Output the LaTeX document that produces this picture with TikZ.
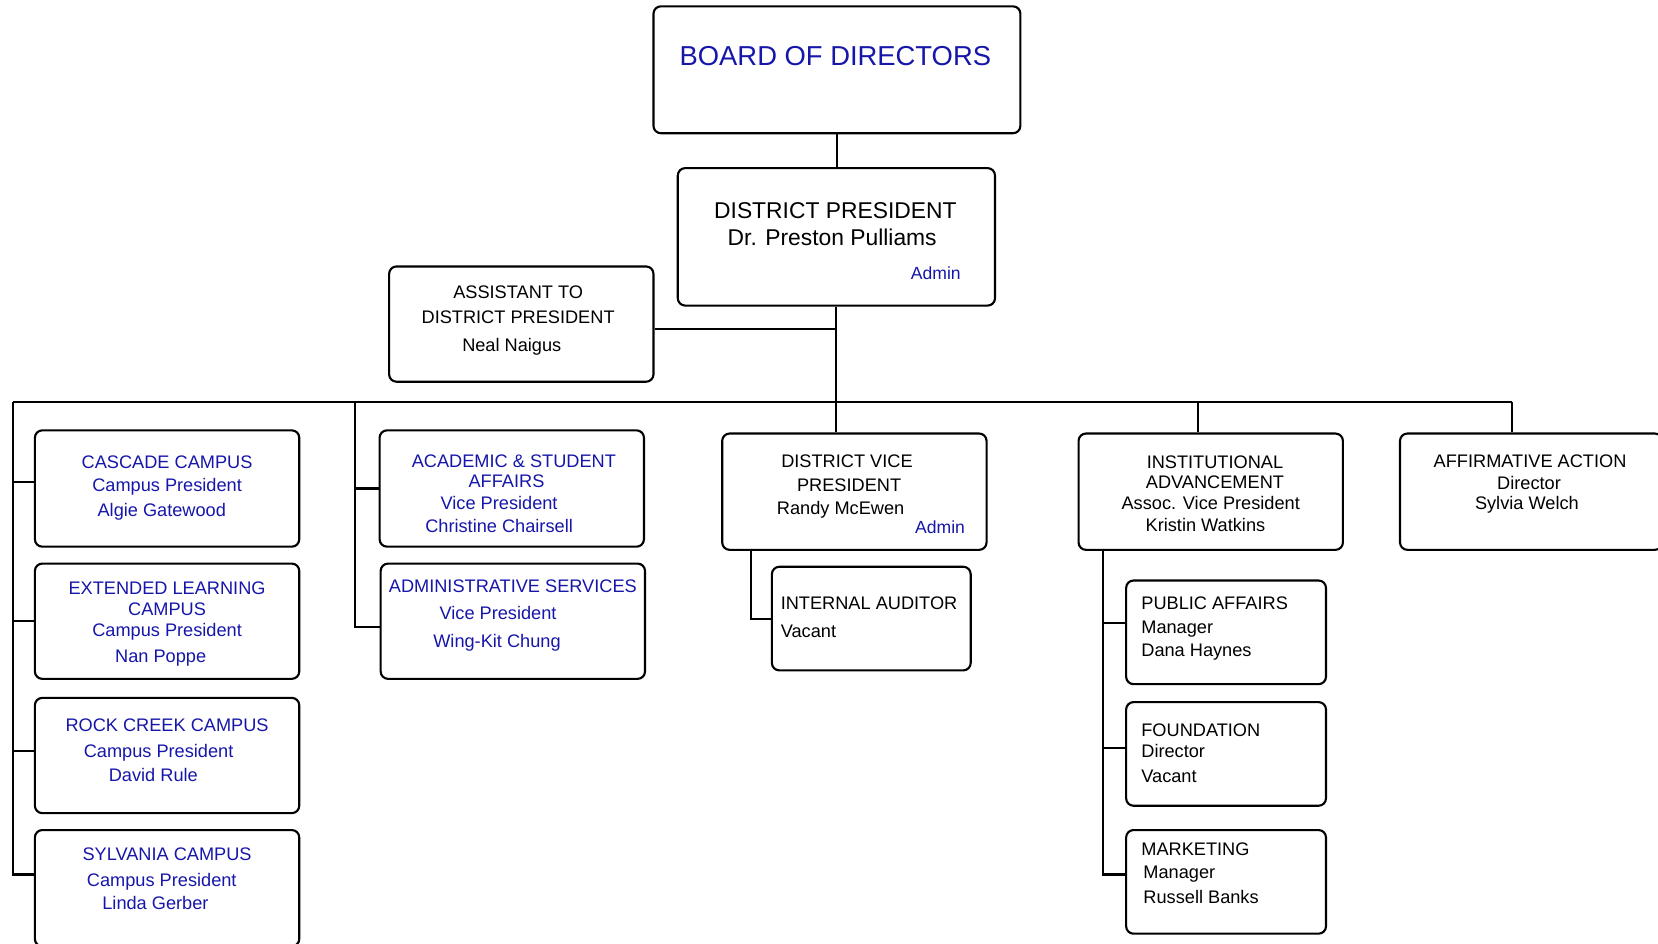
\documentclass[tikz,border=0pt]{standalone}
\usepackage{fontspec}
\setmainfont{Liberation Sans}
\newcommand\fnorm{\fontsize{8.6}{10}\selectfont}
\newcommand\fdpres{\fontsize{10.8}{13}\selectfont}
\newcommand\fboard{\fontsize{12.95}{15}\selectfont}
\newcommand\fadm{\fontsize{8.3}{10}\selectfont}
\definecolor{dblue}{RGB}{22,22,170}
\tikzset{
  box/.style={draw=black, line width=1pt, rounded corners=3.5pt, inner sep=0pt},
  conn/.style={draw=black, line width=1pt},
  txt/.style={inner sep=0pt, text height=0.72em, text depth=0pt, font=\fnorm, text=black},
  btxt/.style={txt, text=dblue},
  ltxt/.style={txt, anchor=west},
}
\begin{document}
\begin{tikzpicture}[x=0.5pt,y=-0.5pt]
\useasboundingbox (0,0) rectangle (1568,892);
% boxes
\node[box, minimum width=173.5pt, minimum height=60pt] (board) at (791.5,66) {};
\node[box, minimum width=150pt, minimum height=65pt] (dp) at (791,224) {};
\node[box, minimum width=125pt, minimum height=54.5pt] (asst) at (493,306.5) {};
\node[box, minimum width=125pt, minimum height=55pt] (casc) at (158,462) {};
\node[box, minimum width=125pt, minimum height=54.5pt] (ext) at (158,587.5) {};
\node[box, minimum width=125pt, minimum height=54.5pt] (rock) at (158,714.5) {};
\node[box, minimum width=125pt, minimum height=55pt] (sylv) at (158,840) {};
\node[box, minimum width=125pt, minimum height=55pt] (acad) at (484,462) {};
\node[box, minimum width=125pt, minimum height=54.5pt] (adms) at (485,587.5) {};
\node[box, minimum width=125pt, minimum height=55pt] (dvp) at (808,465) {};
\node[box, minimum width=94pt, minimum height=49pt] (aud) at (824,585) {};
\node[box, minimum width=125pt, minimum height=55pt] (ia) at (1145,465) {};
\node[box, minimum width=94.5pt, minimum height=49pt] (pa) at (1159.5,598) {};
\node[box, minimum width=94.5pt, minimum height=49pt] (fnd) at (1159.5,713) {};
\node[box, minimum width=94.5pt, minimum height=49pt] (mkt) at (1159.5,834) {};
\node[box, minimum width=124pt, minimum height=55pt] (aff) at (1448,465) {};
% texts
\node[btxt, font=\fboard] (t-board) at (790,55) {BOARD OF DIRECTORS};
\node[txt, font=\fdpres] (t-dp1) at (790,199) {DISTRICT PRESIDENT};
\node[txt, font=\fdpres] (t-dp2) at (787,225) {Dr. Preston Pulliams};
\node[btxt, font=\fadm] (t-dp3) at (885,257) {Admin};
\node[txt] (t-as1) at (490,275) {ASSISTANT TO};
\node[txt] (t-as2) at (490,299) {DISTRICT PRESIDENT};
\node[txt] (t-as3) at (484,325) {Neal Naigus};
\node[btxt] (t-ca1) at (158,436) {CASCADE CAMPUS};
\node[btxt] (t-ca2) at (158,458) {Campus President};
\node[btxt] (t-ca3) at (153,481) {Algie Gatewood};
\node[btxt] (t-ex1) at (158,555) {EXTENDED LEARNING};
\node[btxt] (t-ex2) at (158,575) {CAMPUS};
\node[btxt] (t-ex3) at (158,595) {Campus President};
\node[btxt] (t-ex4) at (152,619) {Nan Poppe};
\node[btxt] (t-rc1) at (158,685) {ROCK CREEK CAMPUS};
\node[btxt] (t-rc2) at (150,709) {Campus President};
\node[btxt] (t-rc3) at (145,732) {David Rule};
\node[btxt] (t-sy1) at (158,807) {SYLVANIA CAMPUS};
\node[btxt] (t-sy2) at (153,831) {Campus President};
\node[btxt] (t-sy3) at (147,853) {Linda Gerber};
\node[btxt] (t-ac1) at (486,435) {ACADEMIC \& STUDENT};
\node[btxt] (t-ac2) at (479,454) {AFFAIRS};
\node[btxt] (t-ac3) at (472,475) {Vice President};
\node[btxt] (t-ac4) at (472,496) {Christine Chairsell};
\node[btxt] (t-ad1) at (485,553) {ADMINISTRATIVE SERVICES};
\node[btxt] (t-ad2) at (471,579) {Vice President};
\node[btxt] (t-ad3) at (470,605) {Wing-Kit Chung};
\node[txt] (t-dv1) at (801,435) {DISTRICT VICE};
\node[txt] (t-dv2) at (803,458) {PRESIDENT};
\node[txt] (t-dv3) at (795,479) {Randy McEwen};
\node[btxt, font=\fadm] (t-dv4) at (889,497) {Admin};
\node[ltxt] (t-au1) at (738,569) {INTERNAL AUDITOR};
\node[ltxt] (t-au2) at (738,596) {Vacant};
\node[txt] (t-ia1) at (1149,436) {INSTITUTIONAL};
\node[txt] (t-ia2) at (1149,455) {ADVANCEMENT};
\node[txt] (t-ia3) at (1145,475) {Assoc. Vice President};
\node[txt] (t-ia4) at (1140,495) {Kristin Watkins};
\node[ltxt] (t-pa1) at (1079,569) {PUBLIC AFFAIRS};
\node[ltxt] (t-pa2) at (1079,592) {Manager};
\node[ltxt] (t-pa3) at (1079,614) {Dana Haynes};
\node[ltxt] (t-fn1) at (1079,689) {FOUNDATION};
\node[ltxt] (t-fn2) at (1079,709) {Director};
\node[ltxt] (t-fn3) at (1079,733) {Vacant};
\node[ltxt] (t-mk1) at (1079,802) {MARKETING};
\node[ltxt] (t-mk2) at (1081,824) {Manager};
\node[ltxt] (t-mk3) at (1081,847) {Russell Banks};
\node[txt] (t-af1) at (1447,435) {AFFIRMATIVE ACTION};
\node[txt] (t-af2) at (1446,456) {Director};
\node[txt] (t-af3) at (1444,475) {Sylvia Welch};
% connector coordinates
\coordinate (busL) at (12,380);
\coordinate (busR) at (1430,380);
\coordinate (bus2) at (336,380);
\coordinate (asb) at ([yshift=-2.25pt]asst.east);
\coordinate (cb) at ([yshift=3pt]casc.west);
\coordinate (eb) at (ext.west);
\coordinate (rb) at ([yshift=2.25pt]rock.west);
\coordinate (sb) at ([yshift=6.5pt]sylv.west);
\coordinate (acb) at (acad.west);
\coordinate (adb) at ([yshift=-2.75pt]adms.west);
\coordinate (dvpd) at ([xshift=14pt]dvp.south west);
\coordinate (iat) at ([xshift=-6pt]ia.north);
\coordinate (iad) at ([xshift=12pt]ia.south west);
\coordinate (pb) at ([yshift=4.5pt]pa.west);
\coordinate (fb) at ([yshift=3pt]fnd.west);
\coordinate (mb) at ([yshift=3.5pt]mkt.west);
% connectors
\draw[conn] (board.south) -- (board.south |- dp.north);
\draw[conn] (dp.south) -- (dp.south |- dvp.north);
\draw[conn] (asb) -- (asb -| dp.south);
\draw[conn] (busL) -- (busR);
\draw[conn] (busL) |- (sb);
\draw[conn] (cb) -- (cb -| busL);
\draw[conn] (eb) -- (eb -| busL);
\draw[conn] (rb) -- (rb -| busL);
\draw[conn] (bus2) |- (adb);
\draw[conn] (acb) -- (acb -| bus2);
\draw[conn] (dvpd) |- (aud.west);
\draw[conn] (iat) -- (iat |- busL);
\draw[conn] (iad) |- (mb);
\draw[conn] (pb) -- (pb -| iad);
\draw[conn] (fb) -- (fb -| iad);
\draw[conn] (busR) -- (busR |- aff.north);
\end{tikzpicture}
\end{document}
